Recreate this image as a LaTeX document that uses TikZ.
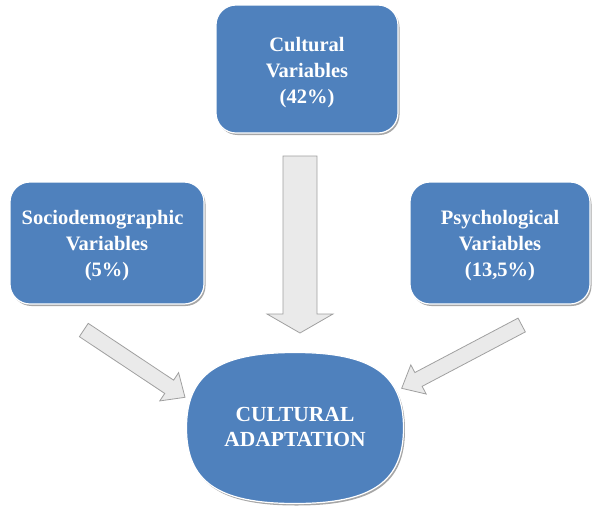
\documentclass[tikz,border=0pt]{standalone}
\usepackage{fontspec}
\setmainfont{Liberation Serif}
\usetikzlibrary{calc,shadows}
\definecolor{boxblue}{HTML}{4F81BD}
\definecolor{arrowfill}{HTML}{EAEAEA}
\definecolor{arrowline}{HTML}{A0A0A0}
\tikzset{
  varbox/.style={draw=white, line width=1.2pt, fill=boxblue, rounded corners=20pt,
    inner sep=0pt,
    drop shadow={shadow xshift=1.5pt, shadow yshift=-2pt, fill=black, opacity=0.35}},
  vartext/.style={inner sep=0pt, align=center, text=white,
    font=\fontsize{20.5}{26}\selectfont\bfseries},
  outcome/.style={inner sep=0pt, align=center, text=white,
    font=\fontsize{21.5}{25}\selectfont\bfseries},
  arrowshape/.style={fill=arrowfill, draw=arrowline, line width=0.8pt, line join=miter},
}
% block arrow from tail (#1) to tip (#2): half shaft width, half head width, head length
\newcommand\blockarrow[5]{%
  \coordinate (ba-h) at ($(#2)!#5!(#1)$);
  \draw[arrowshape] ($(#1)!#3!90:(#2)$) -- ($(ba-h)!#3!90:(#2)$)
    -- ($(ba-h)!#4!90:(#2)$) -- (#2) -- ($(ba-h)!#4!-90:(#2)$)
    -- ($(ba-h)!#3!-90:(#2)$) -- ($(#1)!#3!-90:(#2)$) -- cycle;}
% squarish oval: centre (295,428), half axes 108.5 x 75.5, control factor 0.71
\newcommand\outcomepath{(403.5,428)
  .. controls (403.5,374.4) and (372.0,352.5) .. (295,352.5)
  .. controls (218.0,352.5) and (186.5,374.4) .. (186.5,428)
  .. controls (186.5,481.6) and (218.0,503.5) .. (295,503.5)
  .. controls (372.0,503.5) and (403.5,481.6) .. (403.5,428) -- cycle}
\begin{document}
\begin{tikzpicture}[x=1pt, y=-1pt]
  \useasboundingbox (0,0) rectangle (595,507);

  % variable boxes
  \node[varbox, minimum width=182pt, minimum height=128pt] (cult) at (307,69) {};
  \node[varbox, minimum width=194pt, minimum height=122pt] (socio) at (107,243) {};
  \node[varbox, minimum width=180pt, minimum height=122pt] (psych) at (500,243) {};
  \node[vartext] (cult-text) at ([yshift=-4pt]cult.center) {Cultural\\Variables\\(42\%)};
  \node[vartext] (socio-text) at ([yshift=-3pt]socio.center) {Sociodemographic\hspace*{9pt}\\Variables\\(5\%)};
  \node[vartext] (psych-text) at ([yshift=-3pt]psych.center) {Psychological\\Variables\\(13,5\%)};

  % outcome shape
  \fill[black, opacity=0.35, shift={(1.5,2)}] \outcomepath;
  \draw[draw=white, line width=1.2pt, fill=boxblue] \outcomepath;
  \node[outcome] (adapt) at (295,427) {CULTURAL\\ADAPTATION};

  % block arrows towards the outcome
  \coordinate (cult-tail) at (300,156);
  \coordinate (cult-tip) at (300,333);
  \coordinate (socio-tail) at (83.8,330);
  \coordinate (socio-tip) at (185,397.3);
  \coordinate (psych-tail) at (521.7,325);
  \coordinate (psych-tip) at (401.7,388.3);
  \blockarrow{cult-tail}{cult-tip}{17pt}{33pt}{19pt}
  \blockarrow{socio-tail}{socio-tip}{8pt}{17pt}{19pt}
  \blockarrow{psych-tail}{psych-tip}{7.8pt}{16.5pt}{19pt}
\end{tikzpicture}
\end{document}
